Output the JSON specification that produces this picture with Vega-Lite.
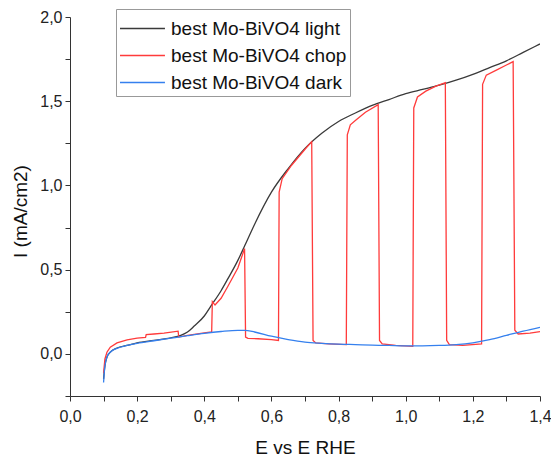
{
  "$schema": "https://vega.github.io/schema/vega-lite/v6.json",
  "width": 470,
  "height": 379,
  "autosize": {"type": "none"},
  "padding": {"left": 70, "top": 17, "right": 11, "bottom": 60},
  "background": "white",
  "config": {
    "view": {"stroke": null},
    "font": "Liberation Sans"
  },
  "data": {
    "values": [
      {"s": "best Mo-BiVO4 light", "i": 0, "x": 0.100, "y": -0.15},
      {"s": "best Mo-BiVO4 light", "i": 1, "x": 0.104, "y": -0.07},
      {"s": "best Mo-BiVO4 light", "i": 2, "x": 0.110, "y": -0.02},
      {"s": "best Mo-BiVO4 light", "i": 3, "x": 0.120, "y": 0.01},
      {"s": "best Mo-BiVO4 light", "i": 4, "x": 0.140, "y": 0.035},
      {"s": "best Mo-BiVO4 light", "i": 5, "x": 0.170, "y": 0.05},
      {"s": "best Mo-BiVO4 light", "i": 6, "x": 0.200, "y": 0.065},
      {"s": "best Mo-BiVO4 light", "i": 7, "x": 0.250, "y": 0.08},
      {"s": "best Mo-BiVO4 light", "i": 8, "x": 0.300, "y": 0.095},
      {"s": "best Mo-BiVO4 light", "i": 9, "x": 0.330, "y": 0.11},
      {"s": "best Mo-BiVO4 light", "i": 10, "x": 0.350, "y": 0.13},
      {"s": "best Mo-BiVO4 light", "i": 11, "x": 0.370, "y": 0.165},
      {"s": "best Mo-BiVO4 light", "i": 12, "x": 0.400, "y": 0.225},
      {"s": "best Mo-BiVO4 light", "i": 13, "x": 0.420, "y": 0.285},
      {"s": "best Mo-BiVO4 light", "i": 14, "x": 0.450, "y": 0.375},
      {"s": "best Mo-BiVO4 light", "i": 15, "x": 0.470, "y": 0.445},
      {"s": "best Mo-BiVO4 light", "i": 16, "x": 0.500, "y": 0.555},
      {"s": "best Mo-BiVO4 light", "i": 17, "x": 0.520, "y": 0.64},
      {"s": "best Mo-BiVO4 light", "i": 18, "x": 0.550, "y": 0.77},
      {"s": "best Mo-BiVO4 light", "i": 19, "x": 0.600, "y": 0.96},
      {"s": "best Mo-BiVO4 light", "i": 20, "x": 0.650, "y": 1.10},
      {"s": "best Mo-BiVO4 light", "i": 21, "x": 0.700, "y": 1.22},
      {"s": "best Mo-BiVO4 light", "i": 22, "x": 0.750, "y": 1.31},
      {"s": "best Mo-BiVO4 light", "i": 23, "x": 0.800, "y": 1.38},
      {"s": "best Mo-BiVO4 light", "i": 24, "x": 0.850, "y": 1.43},
      {"s": "best Mo-BiVO4 light", "i": 25, "x": 0.900, "y": 1.475},
      {"s": "best Mo-BiVO4 light", "i": 26, "x": 0.950, "y": 1.51},
      {"s": "best Mo-BiVO4 light", "i": 27, "x": 1.000, "y": 1.545},
      {"s": "best Mo-BiVO4 light", "i": 28, "x": 1.050, "y": 1.57},
      {"s": "best Mo-BiVO4 light", "i": 29, "x": 1.100, "y": 1.595},
      {"s": "best Mo-BiVO4 light", "i": 30, "x": 1.150, "y": 1.625},
      {"s": "best Mo-BiVO4 light", "i": 31, "x": 1.200, "y": 1.66},
      {"s": "best Mo-BiVO4 light", "i": 32, "x": 1.250, "y": 1.70},
      {"s": "best Mo-BiVO4 light", "i": 33, "x": 1.300, "y": 1.74},
      {"s": "best Mo-BiVO4 light", "i": 34, "x": 1.350, "y": 1.79},
      {"s": "best Mo-BiVO4 light", "i": 35, "x": 1.400, "y": 1.84},

      {"s": "best Mo-BiVO4 chop", "i": 0, "x": 0.100, "y": -0.115},
      {"s": "best Mo-BiVO4 chop", "i": 1, "x": 0.104, "y": -0.03},
      {"s": "best Mo-BiVO4 chop", "i": 2, "x": 0.110, "y": 0.01},
      {"s": "best Mo-BiVO4 chop", "i": 3, "x": 0.120, "y": 0.04},
      {"s": "best Mo-BiVO4 chop", "i": 4, "x": 0.140, "y": 0.065},
      {"s": "best Mo-BiVO4 chop", "i": 5, "x": 0.170, "y": 0.083},
      {"s": "best Mo-BiVO4 chop", "i": 6, "x": 0.200, "y": 0.093},
      {"s": "best Mo-BiVO4 chop", "i": 7, "x": 0.225, "y": 0.098},
      {"s": "best Mo-BiVO4 chop", "i": 8, "x": 0.227, "y": 0.115},
      {"s": "best Mo-BiVO4 chop", "i": 9, "x": 0.250, "y": 0.118},
      {"s": "best Mo-BiVO4 chop", "i": 10, "x": 0.280, "y": 0.123},
      {"s": "best Mo-BiVO4 chop", "i": 11, "x": 0.322, "y": 0.135},
      {"s": "best Mo-BiVO4 chop", "i": 12, "x": 0.324, "y": 0.10},
      {"s": "best Mo-BiVO4 chop", "i": 13, "x": 0.350, "y": 0.11},
      {"s": "best Mo-BiVO4 chop", "i": 14, "x": 0.400, "y": 0.125},
      {"s": "best Mo-BiVO4 chop", "i": 15, "x": 0.422, "y": 0.13},
      {"s": "best Mo-BiVO4 chop", "i": 16, "x": 0.424, "y": 0.31},
      {"s": "best Mo-BiVO4 chop", "i": 17, "x": 0.432, "y": 0.29},
      {"s": "best Mo-BiVO4 chop", "i": 18, "x": 0.450, "y": 0.33},
      {"s": "best Mo-BiVO4 chop", "i": 19, "x": 0.470, "y": 0.40},
      {"s": "best Mo-BiVO4 chop", "i": 20, "x": 0.500, "y": 0.51},
      {"s": "best Mo-BiVO4 chop", "i": 21, "x": 0.520, "y": 0.625},
      {"s": "best Mo-BiVO4 chop", "i": 22, "x": 0.523, "y": 0.10},
      {"s": "best Mo-BiVO4 chop", "i": 23, "x": 0.530, "y": 0.092},
      {"s": "best Mo-BiVO4 chop", "i": 24, "x": 0.560, "y": 0.09},
      {"s": "best Mo-BiVO4 chop", "i": 25, "x": 0.600, "y": 0.085},
      {"s": "best Mo-BiVO4 chop", "i": 26, "x": 0.621, "y": 0.08},
      {"s": "best Mo-BiVO4 chop", "i": 27, "x": 0.623, "y": 0.96},
      {"s": "best Mo-BiVO4 chop", "i": 28, "x": 0.632, "y": 1.04},
      {"s": "best Mo-BiVO4 chop", "i": 29, "x": 0.660, "y": 1.12},
      {"s": "best Mo-BiVO4 chop", "i": 30, "x": 0.700, "y": 1.215},
      {"s": "best Mo-BiVO4 chop", "i": 31, "x": 0.720, "y": 1.26},
      {"s": "best Mo-BiVO4 chop", "i": 32, "x": 0.724, "y": 0.08},
      {"s": "best Mo-BiVO4 chop", "i": 33, "x": 0.732, "y": 0.065},
      {"s": "best Mo-BiVO4 chop", "i": 34, "x": 0.770, "y": 0.06},
      {"s": "best Mo-BiVO4 chop", "i": 35, "x": 0.823, "y": 0.055},
      {"s": "best Mo-BiVO4 chop", "i": 36, "x": 0.826, "y": 1.30},
      {"s": "best Mo-BiVO4 chop", "i": 37, "x": 0.835, "y": 1.36},
      {"s": "best Mo-BiVO4 chop", "i": 38, "x": 0.850, "y": 1.385},
      {"s": "best Mo-BiVO4 chop", "i": 39, "x": 0.880, "y": 1.435},
      {"s": "best Mo-BiVO4 chop", "i": 40, "x": 0.918, "y": 1.48},
      {"s": "best Mo-BiVO4 chop", "i": 41, "x": 0.922, "y": 0.08},
      {"s": "best Mo-BiVO4 chop", "i": 42, "x": 0.930, "y": 0.06},
      {"s": "best Mo-BiVO4 chop", "i": 43, "x": 0.970, "y": 0.05},
      {"s": "best Mo-BiVO4 chop", "i": 44, "x": 1.021, "y": 0.045},
      {"s": "best Mo-BiVO4 chop", "i": 45, "x": 1.024, "y": 1.46},
      {"s": "best Mo-BiVO4 chop", "i": 46, "x": 1.035, "y": 1.525},
      {"s": "best Mo-BiVO4 chop", "i": 47, "x": 1.060, "y": 1.56},
      {"s": "best Mo-BiVO4 chop", "i": 48, "x": 1.090, "y": 1.59},
      {"s": "best Mo-BiVO4 chop", "i": 49, "x": 1.118, "y": 1.61},
      {"s": "best Mo-BiVO4 chop", "i": 50, "x": 1.122, "y": 0.08},
      {"s": "best Mo-BiVO4 chop", "i": 51, "x": 1.130, "y": 0.055},
      {"s": "best Mo-BiVO4 chop", "i": 52, "x": 1.170, "y": 0.05},
      {"s": "best Mo-BiVO4 chop", "i": 53, "x": 1.226, "y": 0.06},
      {"s": "best Mo-BiVO4 chop", "i": 54, "x": 1.229, "y": 1.60},
      {"s": "best Mo-BiVO4 chop", "i": 55, "x": 1.240, "y": 1.655},
      {"s": "best Mo-BiVO4 chop", "i": 56, "x": 1.270, "y": 1.685},
      {"s": "best Mo-BiVO4 chop", "i": 57, "x": 1.300, "y": 1.715},
      {"s": "best Mo-BiVO4 chop", "i": 58, "x": 1.320, "y": 1.735},
      {"s": "best Mo-BiVO4 chop", "i": 59, "x": 1.325, "y": 0.14},
      {"s": "best Mo-BiVO4 chop", "i": 60, "x": 1.335, "y": 0.118},
      {"s": "best Mo-BiVO4 chop", "i": 61, "x": 1.370, "y": 0.123},
      {"s": "best Mo-BiVO4 chop", "i": 62, "x": 1.400, "y": 0.132},

      {"s": "best Mo-BiVO4 dark", "i": 0, "x": 0.100, "y": -0.17},
      {"s": "best Mo-BiVO4 dark", "i": 1, "x": 0.103, "y": -0.09},
      {"s": "best Mo-BiVO4 dark", "i": 2, "x": 0.107, "y": -0.04},
      {"s": "best Mo-BiVO4 dark", "i": 3, "x": 0.112, "y": -0.01},
      {"s": "best Mo-BiVO4 dark", "i": 4, "x": 0.120, "y": 0.01},
      {"s": "best Mo-BiVO4 dark", "i": 5, "x": 0.140, "y": 0.033},
      {"s": "best Mo-BiVO4 dark", "i": 6, "x": 0.170, "y": 0.05},
      {"s": "best Mo-BiVO4 dark", "i": 7, "x": 0.200, "y": 0.063},
      {"s": "best Mo-BiVO4 dark", "i": 8, "x": 0.250, "y": 0.078},
      {"s": "best Mo-BiVO4 dark", "i": 9, "x": 0.300, "y": 0.093},
      {"s": "best Mo-BiVO4 dark", "i": 10, "x": 0.350, "y": 0.108},
      {"s": "best Mo-BiVO4 dark", "i": 11, "x": 0.400, "y": 0.122},
      {"s": "best Mo-BiVO4 dark", "i": 12, "x": 0.450, "y": 0.133},
      {"s": "best Mo-BiVO4 dark", "i": 13, "x": 0.500, "y": 0.14},
      {"s": "best Mo-BiVO4 dark", "i": 14, "x": 0.520, "y": 0.14},
      {"s": "best Mo-BiVO4 dark", "i": 15, "x": 0.550, "y": 0.13},
      {"s": "best Mo-BiVO4 dark", "i": 16, "x": 0.600, "y": 0.105},
      {"s": "best Mo-BiVO4 dark", "i": 17, "x": 0.650, "y": 0.085},
      {"s": "best Mo-BiVO4 dark", "i": 18, "x": 0.700, "y": 0.07},
      {"s": "best Mo-BiVO4 dark", "i": 19, "x": 0.750, "y": 0.063},
      {"s": "best Mo-BiVO4 dark", "i": 20, "x": 0.800, "y": 0.058},
      {"s": "best Mo-BiVO4 dark", "i": 21, "x": 0.850, "y": 0.055},
      {"s": "best Mo-BiVO4 dark", "i": 22, "x": 0.900, "y": 0.052},
      {"s": "best Mo-BiVO4 dark", "i": 23, "x": 0.950, "y": 0.05},
      {"s": "best Mo-BiVO4 dark", "i": 24, "x": 1.000, "y": 0.048},
      {"s": "best Mo-BiVO4 dark", "i": 25, "x": 1.050, "y": 0.048},
      {"s": "best Mo-BiVO4 dark", "i": 26, "x": 1.100, "y": 0.05},
      {"s": "best Mo-BiVO4 dark", "i": 27, "x": 1.150, "y": 0.055},
      {"s": "best Mo-BiVO4 dark", "i": 28, "x": 1.200, "y": 0.066},
      {"s": "best Mo-BiVO4 dark", "i": 29, "x": 1.250, "y": 0.085},
      {"s": "best Mo-BiVO4 dark", "i": 30, "x": 1.300, "y": 0.11},
      {"s": "best Mo-BiVO4 dark", "i": 31, "x": 1.350, "y": 0.135},
      {"s": "best Mo-BiVO4 dark", "i": 32, "x": 1.400, "y": 0.158}
    ]
  },
  "encoding": {
    "x": {
      "field": "x",
      "type": "quantitative",
      "scale": {"domain": [0, 1.4], "nice": false, "zero": false},
      "axis": {
        "title": "E vs E RHE",
        "values": [0, 0.1, 0.2, 0.3, 0.4, 0.5, 0.6, 0.7, 0.8, 0.9, 1.0, 1.1, 1.2, 1.3, 1.4],
        "labelExpr": "round(datum.value*10) % 2 == 0 ? replace(format(datum.value, '.1f'), '.', ',') : ''",
        "grid": false,
        "domainColor": "#333333",
        "tickColor": "#333333",
        "tickSize": 5,
        "labelPadding": 7,
        "labelFontSize": 16,
        "labelColor": "#222222",
        "labelOverlap": false,
        "labelBound": false,
        "labelFlush": false,
        "titleFontSize": 19,
        "titleFontWeight": "normal",
        "titleColor": "#111111",
        "titleX": 235,
        "titleY": 57,
        "titleBaseline": "alphabetic",
        "titleAnchor": "middle"
      }
    },
    "y": {
      "field": "y",
      "type": "quantitative",
      "scale": {"domain": [-0.25, 2.0], "nice": false, "zero": false},
      "axis": {
        "title": "I (mA/cm2)",
        "values": [-0.25, 0, 0.25, 0.5, 0.75, 1.0, 1.25, 1.5, 1.75, 2.0],
        "labelExpr": "round(datum.value*4) % 2 == 0 && datum.value >= 0 ? replace(format(datum.value, '.1f'), '.', ',') : ''",
        "grid": false,
        "domainColor": "#333333",
        "tickColor": "#333333",
        "tickSize": 5,
        "labelPadding": 3,
        "labelFontSize": 16,
        "labelColor": "#222222",
        "labelOverlap": false,
        "labelBound": false,
        "labelFlush": false,
        "titleFontSize": 19,
        "titleFontWeight": "normal",
        "titleColor": "#111111",
        "titleAngle": 270,
        "titleX": -50,
        "titleY": 194,
        "titleBaseline": "middle",
        "titleAlign": "center"
      }
    },
    "color": {
      "field": "s",
      "type": "nominal",
      "scale": {
        "domain": ["best Mo-BiVO4 light", "best Mo-BiVO4 chop", "best Mo-BiVO4 dark"],
        "range": ["#3a3a3a", "#ff3b3b", "#3580ee"]
      },
      "legend": {
        "title": null,
        "orient": "none",
        "legendX": 46,
        "legendY": -8,
        "symbolType": "M-1,0H1.9",
        "symbolSize": 961,
        "symbolStrokeWidth": 1.5,
        "labelFontSize": 19,
        "labelColor": "#111111",
        "labelOffset": 19,
        "rowPadding": 0,
        "padding": 3,
        "strokeColor": "#999999",
        "fillColor": "white",
        "labelLimit": 400
      }
    },
    "order": {"field": "i", "type": "quantitative"}
  },
  "layer": [
    {
      "transform": [{"filter": "datum.s == 'best Mo-BiVO4 light'"}],
      "mark": {"type": "line", "strokeWidth": 1.3, "clip": true, "interpolate": "monotone"}
    },
    {
      "transform": [{"filter": "datum.s == 'best Mo-BiVO4 chop'"}],
      "mark": {"type": "line", "strokeWidth": 1.3, "clip": true}
    },
    {
      "transform": [{"filter": "datum.s == 'best Mo-BiVO4 dark'"}],
      "mark": {"type": "line", "strokeWidth": 1.3, "clip": true, "interpolate": "monotone"}
    }
  ]
}
